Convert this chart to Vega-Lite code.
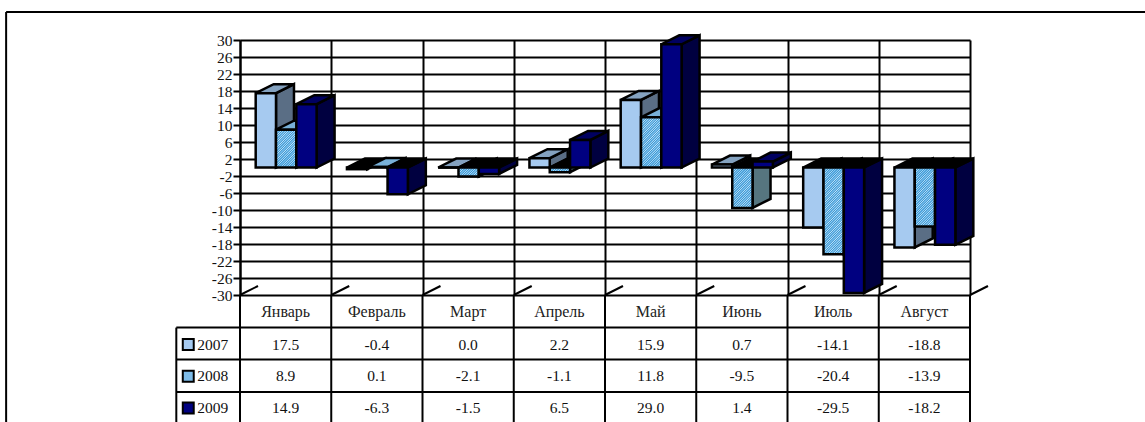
{"$schema":"https://vega.github.io/schema/vega-lite/v6.json","width":730,"height":255,"autosize":{"type":"none"},"padding":{"left":240,"top":40,"right":175,"bottom":127},"background":"white","view":{"stroke":null},
"datasets":{"bars":[
{"month":"Январь","year":2007,"value":17.5},{"month":"Февраль","year":2007,"value":-0.4},{"month":"Март","year":2007,"value":0.0},{"month":"Апрель","year":2007,"value":2.2},{"month":"Май","year":2007,"value":15.9},{"month":"Июнь","year":2007,"value":0.7},{"month":"Июль","year":2007,"value":-14.1},{"month":"Август","year":2007,"value":-18.8},
{"month":"Январь","year":2008,"value":8.9},{"month":"Февраль","year":2008,"value":0.1},{"month":"Март","year":2008,"value":-2.1},{"month":"Апрель","year":2008,"value":-1.1},{"month":"Май","year":2008,"value":11.8},{"month":"Июнь","year":2008,"value":-9.5},{"month":"Июль","year":2008,"value":-20.4},{"month":"Август","year":2008,"value":-13.9},
{"month":"Январь","year":2009,"value":14.9},{"month":"Февраль","year":2009,"value":-6.3},{"month":"Март","year":2009,"value":-1.5},{"month":"Апрель","year":2009,"value":6.5},{"month":"Май","year":2009,"value":29.0},{"month":"Июнь","year":2009,"value":1.4},{"month":"Июль","year":2009,"value":-29.5},{"month":"Август","year":2009,"value":-18.2}],
"edges":[{"c":0},{"c":1},{"c":2},{"c":3},{"c":4},{"c":5},{"c":6},{"c":7},{"c":8}],
"rows":[{"r":-37.67},{"r":-45.2},{"r":-52.8}]},
"data":{"name":"bars"},
"transform":[
{"calculate":"indexof(['Январь','Февраль','Март','Апрель','Май','Июнь','Июль','Август'],datum.month)","as":"i"},
{"calculate":"datum.year-2007","as":"s"},
{"calculate":"datum.i+0.172+datum.s*0.2225","as":"x0"},
{"calculate":"datum.x0+0.2225","as":"x1"},
{"calculate":"max(datum.value,0)","as":"top"},
{"calculate":"min(datum.value,0)","as":"low"},
{"calculate":"datum.year+'front'","as":"frontKey"},
{"calculate":"datum.year+'side'","as":"sideKey"},
{"calculate":"datum.value<0?'neg':datum.year+'top'","as":"topKey"},
{"calculate":"datum.i+0.5","as":"xc"},
{"calculate":"-41.67-datum.s*7.45","as":"rowY"},
{"calculate":"replace(format(datum.value,'.1f'),'−','-')","as":"lbl"},
{"calculate":"''+datum.year","as":"yearText"}
],
"layer":[
{"data":{"name":"edges"},"transform":[],"mark":{"type":"rule","stroke":"black","strokeWidth":2},"encoding":{
"x":{"field":"c","type":"quantitative","scale":{"domain":[0,8],"nice":false,"zero":false},"axis":{"title":null,"values":[0,1,2,3,4,5,6,7,8],"tickCount":9,"labels":false,"ticks":false,"domain":false,"grid":true,"gridColor":"black","gridWidth":2,"gridOpacity":1}},
"y":{"datum":-30,"type":"quantitative","scale":{"domain":[-30,30],"nice":false,"zero":false},"axis":{"title":null,"values":[-30,-26,-22,-18,-14,-10,-6,-2,2,6,10,14,18,22,26,30],"tickCount":16,"labelExpr":"''+datum.value","labelFont":"Liberation Serif","labelFontSize":15.5,"labelColor":"#111","labelPadding":1,"tickColor":"black","tickWidth":2,"tickSize":7,"domainColor":"black","domainWidth":2,"grid":true,"gridColor":"black","gridWidth":2,"gridOpacity":1,"labelOverlap":false,"labelBound":false}},
"y2":{"datum":-60}}},
{"data":{"name":"edges"},"mark":{"type":"rule","stroke":"black","strokeWidth":2},"encoding":{
"x":{"field":"c","type":"quantitative","scale":{"domain":[0,8],"nice":false,"zero":false}},
"x2":{"field":"c2"},
"y":{"datum":-30,"type":"quantitative","scale":{"domain":[-30,30],"nice":false,"zero":false}},
"y2":{"datum":-27.885}},"transform":[{"calculate":"datum.c+0.197","as":"c2"}]},
{"data":{"name":"rows"},"mark":{"type":"rule","stroke":"black","strokeWidth":2},"encoding":{
"x":{"datum":-0.698,"type":"quantitative","scale":{"domain":[0,8],"nice":false,"zero":false}},
"x2":{"datum":8},
"y":{"field":"r","type":"quantitative","scale":{"domain":[-30,30],"nice":false,"zero":false}}}},
{"data":{"name":"rows"},"transform":[{"filter":"datum.r>-38"}],"mark":{"type":"rule","stroke":"black","strokeWidth":2},"encoding":{
"x":{"datum":-0.698,"type":"quantitative","scale":{"domain":[0,8],"nice":false,"zero":false}},
"y":{"field":"r","type":"quantitative","scale":{"domain":[-30,30],"nice":false,"zero":false}},
"y2":{"datum":-60}}},
{"data":{"name":"rows"},"transform":[{"filter":"datum.r>-38"}],"mark":{"type":"rule","stroke":"black","strokeWidth":2},"encoding":{
"x":{"datum":-2.563,"type":"quantitative","scale":{"domain":[0,8],"nice":false,"zero":false}},
"x2":{"datum":9.92},
"y":{"datum":36.6,"type":"quantitative","scale":{"domain":[-30,30],"nice":false,"zero":false}}}},
{"data":{"name":"rows"},"transform":[{"filter":"datum.r>-38"}],"mark":{"type":"rule","stroke":"black","strokeWidth":2},"encoding":{
"x":{"datum":-2.563,"type":"quantitative","scale":{"domain":[0,8],"nice":false,"zero":false}},
"y":{"datum":36.6,"type":"quantitative","scale":{"domain":[-30,30],"nice":false,"zero":false}},
"y2":{"datum":-60}}},

{"transform":[{"filter":"datum.year==2007"},{"calculate":"[0,1]","as":"t"},{"flatten":["t"]},{"calculate":"datum.x1+datum.t*0.197","as":"xs"},{"calculate":"datum.top+datum.t*2.115","as":"ys"},{"calculate":"datum.low+datum.t*2.115","as":"ys2"}],
"mark":{"type":"area","stroke":"black","strokeWidth":2.5,"opacity":1},"encoding":{"detail":{"field":"month"},"x":{"field":"xs","type":"quantitative","scale":{"domain":[0,8],"nice":false,"zero":false}},"y":{"field":"ys","type":"quantitative","scale":{"domain":[-30,30],"nice":false,"zero":false}},"y2":{"field":"ys2"},"fill":{"field":"sideKey","scale":{"domain":["neg","2007top","2008top","2009top","2007side","2008side","2009side","2007front","2008front","2009front"],"range":["#000000","#84a2c0","#78b0d8","#000060","#5a6e85","#56757f","#000040","#a6caf0","#7dbbe8","#000080"]},"legend":null}}},
{"transform":[{"filter":"datum.year==2007"},{"calculate":"[0,1,2,3]","as":"t"},{"flatten":["t"]},{"calculate":"[datum.x0,datum.x0+0.197,datum.x1,datum.x1+0.197][datum.t]","as":"xs"},{"calculate":"datum.top+(datum.t>0?2.115:0)","as":"ys"},{"calculate":"datum.top+(datum.t>2?2.115:0)","as":"ys2"}],
"mark":{"type":"area","stroke":"black","strokeWidth":2.5,"opacity":1},"encoding":{"detail":{"field":"month"},"x":{"field":"xs","type":"quantitative","scale":{"domain":[0,8],"nice":false,"zero":false}},"y":{"field":"ys","type":"quantitative","scale":{"domain":[-30,30],"nice":false,"zero":false}},"y2":{"field":"ys2"},"fill":{"field":"topKey","scale":{"domain":["neg","2007top","2008top","2009top","2007side","2008side","2009side","2007front","2008front","2009front"],"range":["#000000","#84a2c0","#78b0d8","#000060","#5a6e85","#56757f","#000040","#a6caf0","#7dbbe8","#000080"]},"legend":null}}},
{"transform":[{"filter":"datum.year==2007"}],"mark":{"type":"rect","stroke":"black","strokeWidth":2.5},"encoding":{"x":{"field":"x0","type":"quantitative","scale":{"domain":[0,8],"nice":false,"zero":false}},"x2":{"field":"x1"},"y":{"field":"top","type":"quantitative","scale":{"domain":[-30,30],"nice":false,"zero":false}},"y2":{"field":"low"},"fill":{"field":"frontKey","scale":{"domain":["neg","2007top","2008top","2009top","2007side","2008side","2009side","2007front","2008front","2009front"],"range":["#000000","#84a2c0","#78b0d8","#000060","#5a6e85","#56757f","#000040","#a6caf0","#7dbbe8","#000080"]},"legend":null}}},

{"transform":[{"filter":"datum.year==2008"},{"calculate":"[0,1]","as":"t"},{"flatten":["t"]},{"calculate":"datum.x1+datum.t*0.197","as":"xs"},{"calculate":"datum.top+datum.t*2.115","as":"ys"},{"calculate":"datum.low+datum.t*2.115","as":"ys2"}],
"mark":{"type":"area","stroke":"black","strokeWidth":2.5,"opacity":1},"encoding":{"detail":{"field":"month"},"x":{"field":"xs","type":"quantitative","scale":{"domain":[0,8],"nice":false,"zero":false}},"y":{"field":"ys","type":"quantitative","scale":{"domain":[-30,30],"nice":false,"zero":false}},"y2":{"field":"ys2"},"fill":{"field":"sideKey","scale":{"domain":["neg","2007top","2008top","2009top","2007side","2008side","2009side","2007front","2008front","2009front"],"range":["#000000","#84a2c0","#78b0d8","#000060","#5a6e85","#56757f","#000040","#a6caf0","#7dbbe8","#000080"]},"legend":null}}},
{"transform":[{"filter":"datum.year==2008"},{"calculate":"[0,1,2,3]","as":"t"},{"flatten":["t"]},{"calculate":"[datum.x0,datum.x0+0.197,datum.x1,datum.x1+0.197][datum.t]","as":"xs"},{"calculate":"datum.top+(datum.t>0?2.115:0)","as":"ys"},{"calculate":"datum.top+(datum.t>2?2.115:0)","as":"ys2"}],
"mark":{"type":"area","stroke":"black","strokeWidth":2.5,"opacity":1},"encoding":{"detail":{"field":"month"},"x":{"field":"xs","type":"quantitative","scale":{"domain":[0,8],"nice":false,"zero":false}},"y":{"field":"ys","type":"quantitative","scale":{"domain":[-30,30],"nice":false,"zero":false}},"y2":{"field":"ys2"},"fill":{"field":"topKey","scale":{"domain":["neg","2007top","2008top","2009top","2007side","2008side","2009side","2007front","2008front","2009front"],"range":["#000000","#84a2c0","#78b0d8","#000060","#5a6e85","#56757f","#000040","#a6caf0","#7dbbe8","#000080"]},"legend":null}}},
{"transform":[{"filter":"datum.year==2008"}],"mark":{"type":"rect","fill":"white"},"encoding":{"x":{"field":"x0","type":"quantitative","scale":{"domain":[0,8],"nice":false,"zero":false}},"x2":{"field":"x1"},"y":{"field":"top","type":"quantitative","scale":{"domain":[-30,30],"nice":false,"zero":false}},"y2":{"field":"low"}}},
{"transform":[{"filter":"datum.year==2008"},{"calculate":"sequence(-20,abs(datum.value)*4.25,2.4)","as":"c"},{"flatten":["c"]},{"calculate":"abs(datum.value)*4.25","as":"H"},{"calculate":"max(0,-datum.c)","as":"u1"},{"calculate":"min(20.3,datum.H-datum.c)","as":"u2"},{"filter":"datum.u2>=datum.u1"},{"calculate":"datum.x0+datum.u1/91.25","as":"hx1"},{"calculate":"datum.x0+datum.u2/91.25","as":"hx2"},{"calculate":"datum.low+(datum.u1+datum.c)/4.25","as":"hy1"},{"calculate":"datum.low+(datum.u2+datum.c)/4.25","as":"hy2"}],
"mark":{"type":"rule","stroke":"#2f95d8","strokeWidth":1.2},"encoding":{"x":{"field":"hx1","type":"quantitative","scale":{"domain":[0,8],"nice":false,"zero":false}},"x2":{"field":"hx2"},"y":{"field":"hy1","type":"quantitative","scale":{"domain":[-30,30],"nice":false,"zero":false}},"y2":{"field":"hy2"}}},
{"transform":[{"filter":"datum.year==2008"}],"mark":{"type":"rect","fill":null,"stroke":"black","strokeWidth":2.5},"encoding":{"x":{"field":"x0","type":"quantitative","scale":{"domain":[0,8],"nice":false,"zero":false}},"x2":{"field":"x1"},"y":{"field":"top","type":"quantitative","scale":{"domain":[-30,30],"nice":false,"zero":false}},"y2":{"field":"low"}}},

{"transform":[{"filter":"datum.year==2009"},{"calculate":"[0,1]","as":"t"},{"flatten":["t"]},{"calculate":"datum.x1+datum.t*0.197","as":"xs"},{"calculate":"datum.top+datum.t*2.115","as":"ys"},{"calculate":"datum.low+datum.t*2.115","as":"ys2"}],
"mark":{"type":"area","stroke":"black","strokeWidth":2.5,"opacity":1},"encoding":{"detail":{"field":"month"},"x":{"field":"xs","type":"quantitative","scale":{"domain":[0,8],"nice":false,"zero":false}},"y":{"field":"ys","type":"quantitative","scale":{"domain":[-30,30],"nice":false,"zero":false}},"y2":{"field":"ys2"},"fill":{"field":"sideKey","scale":{"domain":["neg","2007top","2008top","2009top","2007side","2008side","2009side","2007front","2008front","2009front"],"range":["#000000","#84a2c0","#78b0d8","#000060","#5a6e85","#56757f","#000040","#a6caf0","#7dbbe8","#000080"]},"legend":null}}},
{"transform":[{"filter":"datum.year==2009"},{"calculate":"[0,1,2,3]","as":"t"},{"flatten":["t"]},{"calculate":"[datum.x0,datum.x0+0.197,datum.x1,datum.x1+0.197][datum.t]","as":"xs"},{"calculate":"datum.top+(datum.t>0?2.115:0)","as":"ys"},{"calculate":"datum.top+(datum.t>2?2.115:0)","as":"ys2"}],
"mark":{"type":"area","stroke":"black","strokeWidth":2.5,"opacity":1},"encoding":{"detail":{"field":"month"},"x":{"field":"xs","type":"quantitative","scale":{"domain":[0,8],"nice":false,"zero":false}},"y":{"field":"ys","type":"quantitative","scale":{"domain":[-30,30],"nice":false,"zero":false}},"y2":{"field":"ys2"},"fill":{"field":"topKey","scale":{"domain":["neg","2007top","2008top","2009top","2007side","2008side","2009side","2007front","2008front","2009front"],"range":["#000000","#84a2c0","#78b0d8","#000060","#5a6e85","#56757f","#000040","#a6caf0","#7dbbe8","#000080"]},"legend":null}}},
{"transform":[{"filter":"datum.year==2009"}],"mark":{"type":"rect","stroke":"black","strokeWidth":2.5},"encoding":{"x":{"field":"x0","type":"quantitative","scale":{"domain":[0,8],"nice":false,"zero":false}},"x2":{"field":"x1"},"y":{"field":"top","type":"quantitative","scale":{"domain":[-30,30],"nice":false,"zero":false}},"y2":{"field":"low"},"fill":{"field":"frontKey","scale":{"domain":["neg","2007top","2008top","2009top","2007side","2008side","2009side","2007front","2008front","2009front"],"range":["#000000","#84a2c0","#78b0d8","#000060","#5a6e85","#56757f","#000040","#a6caf0","#7dbbe8","#000080"]},"legend":null}}},

{"transform":[{"filter":"datum.year==2007"}],"mark":{"type":"text","font":"Liberation Serif","fontSize":16,"color":"#222","baseline":"middle","align":"center"},"encoding":{"x":{"field":"xc","type":"quantitative","scale":{"domain":[0,8],"nice":false,"zero":false}},"y":{"datum":-33.9,"type":"quantitative","scale":{"domain":[-30,30],"nice":false,"zero":false}},"text":{"field":"month"}}},
{"mark":{"type":"text","font":"Liberation Serif","fontSize":15.5,"color":"#111","baseline":"middle","align":"center"},"encoding":{"x":{"field":"xc","type":"quantitative","scale":{"domain":[0,8],"nice":false,"zero":false}},"y":{"field":"rowY","type":"quantitative","scale":{"domain":[-30,30],"nice":false,"zero":false}},"text":{"field":"lbl"}}},
{"transform":[{"filter":"datum.i==0"}],"mark":{"type":"point","shape":"square","filled":true,"size":120,"stroke":"black","strokeWidth":2,"opacity":1},"encoding":{"x":{"datum":-0.567,"type":"quantitative","scale":{"domain":[0,8],"nice":false,"zero":false}},"y":{"field":"rowY","type":"quantitative","scale":{"domain":[-30,30],"nice":false,"zero":false}},"fill":{"field":"frontKey","scale":{"domain":["neg","2007top","2008top","2009top","2007side","2008side","2009side","2007front","2008front","2009front"],"range":["#000000","#84a2c0","#78b0d8","#000060","#5a6e85","#56757f","#000040","#a6caf0","#7dbbe8","#000080"]},"legend":null}}},
{"transform":[{"filter":"datum.i==0"}],"mark":{"type":"text","font":"Liberation Serif","fontSize":15.5,"color":"#111","baseline":"middle","align":"left"},"encoding":{"x":{"datum":-0.469,"type":"quantitative","scale":{"domain":[0,8],"nice":false,"zero":false}},"y":{"field":"rowY","type":"quantitative","scale":{"domain":[-30,30],"nice":false,"zero":false}},"text":{"field":"yearText"}}}
]}
